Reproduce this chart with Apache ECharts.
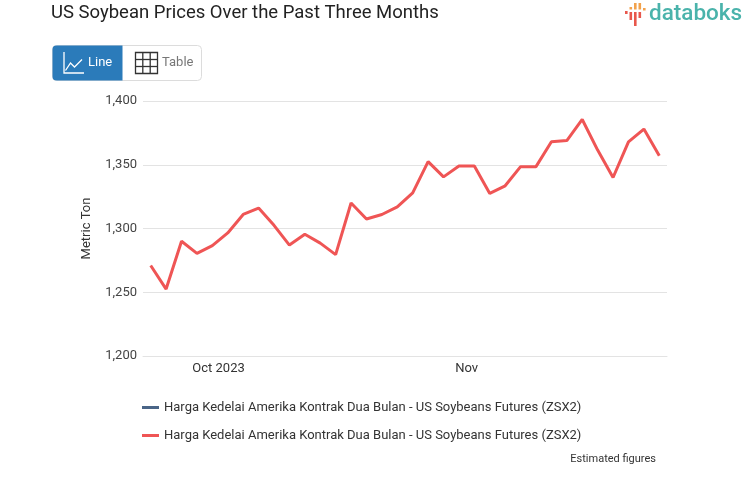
<!DOCTYPE html>
<html><head><meta charset="utf-8">
<script src="https://cdn.jsdelivr.net/npm/echarts@6/dist/echarts.min.js"></script>
<style>html,body{margin:0;padding:0;background:#fff}#c{width:753px;height:498px}</style>
</head><body><div id="c"></div>
<script>
// ---- data ----
const dates = [
  '2023-09-21','2023-09-22','2023-09-25','2023-09-27','2023-09-29',
  '2023-10-04','2023-10-05','2023-10-06','2023-10-09','2023-10-11','2023-10-13','2023-10-16','2023-10-18',
  '2023-10-19','2023-10-20','2023-10-23','2023-10-25','2023-10-26','2023-10-27','2023-10-30','2023-10-31',
  '2023-11-02','2023-11-03','2023-11-06','2023-11-07','2023-11-08','2023-11-09','2023-11-10','2023-11-13',
  '2023-11-14','2023-11-15','2023-11-16','2023-11-17','2023-11-20'
];
const prices = [
  1271, 1252.5, 1290, 1280.5, 1286.5, 1296.5, 1311, 1316, 1302.5, 1287, 1295.5, 1288.5,
  1279.5, 1320, 1307.5, 1311, 1317, 1328, 1352.5, 1340.5, 1349, 1349, 1327.5, 1333.5,
  1348.5, 1348.5, 1368, 1369, 1385.5, 1361.5, 1340, 1368, 1378, 1357
];
const seriesName = 'Harga Kedelai Amerika Kontrak Dua Bulan - US Soybeans Futures (ZSX2)';
const monthStarts = ['2023-10-01', '2023-11-01'];
const monthLabels = ['Oct 2023', 'Nov'];
const yMin = 1200, yMax = 1400, yStep = 50;

// ordinal position of each month start between trading dates
const t = d => new Date(d + 'T00:00:00Z').getTime();
const monthPos = monthStarts.map(m => {
  const mt = t(m);
  for (let i = 1; i < dates.length; i++) {
    const a = t(dates[i - 1]), b = t(dates[i]);
    if (mt > a && mt <= b) return (i - 1) + (mt - a) / (b - a);
  }
  return 0;
});

const chart = echarts.init(document.getElementById('c'), null, {renderer: 'canvas'});
const font = 'Roboto, "Noto Sans", sans-serif';

chart.setOption({
  animation: false,
  textStyle: {fontFamily: font},
  title: {
    text: 'US Soybean Prices Over the Past Three Months',
    left: 51, top: 4, padding: 0,
    textStyle: {fontFamily: font, fontSize: 18.5, fontWeight: 'normal', color: '#222'}
  },
  grid: {left: 143, right: 86, top: 101, bottom: 142},
  legend: {
    orient: 'vertical', left: 142, top: 401, itemGap: 15, padding: 0,
    itemWidth: 17, itemHeight: 3, icon: 'rect',
    textStyle: {fontFamily: font, fontSize: 13, color: '#333'},
    data: [seriesName, seriesName + '\u200b']
  },
  xAxis: {
    type: 'value', min: -0.5, max: dates.length - 0.5,
    splitLine: {show: false},
    axisTick: {show: false},
    axisLine: {show: true, lineStyle: {color: '#e3e3e3'}},
    axisLabel: {
      customValues: monthPos,
      color: '#333', fontSize: 13, margin: 6, fontFamily: font,
      formatter: v => {
        let best = 0;
        monthPos.forEach((p, i) => { if (Math.abs(p - v) < Math.abs(monthPos[best] - v)) best = i; });
        return monthLabels[best];
      }
    }
  },
  yAxis: {
    type: 'value', min: yMin, max: yMax, interval: yStep,
    name: 'Metric Ton', nameLocation: 'middle', nameGap: 50, nameRotate: 90,
    nameTextStyle: {color: '#333', fontSize: 13, fontFamily: font},
    axisLine: {show: false}, axisTick: {show: false},
    axisLabel: {color: '#444', fontSize: 13, margin: 6, fontFamily: font,
      formatter: v => v.toLocaleString('en-US')},
    splitLine: {lineStyle: {color: '#e3e3e3', width: 1}}
  },
  series: [
    {name: seriesName, type: 'line', data: [], color: '#4a6587', lineStyle: {width: 3}},
    {name: seriesName + '\u200b', type: 'line', color: '#ef5555', showSymbol: false, symbol: 'none',
     lineStyle: {width: 3, color: '#ef5555'},
     data: prices.map((v, i) => [i, v])}
  ],
  graphic: [
    // button group
    {type: 'rect', shape: {x: 52.5, y: 45.5, width: 149, height: 35, r: 4},
     style: {fill: '#fff', stroke: '#dcdcdc', lineWidth: 1}},
    {type: 'rect', shape: {x: 52.5, y: 45.5, width: 70, height: 35, r: [4, 0, 0, 4]},
     style: {fill: '#2b7bba'}},
    {type: 'polyline', shape: {points: [[64, 52], [64, 73], [84, 73]]},
     style: {stroke: '#fff', lineWidth: 1.3, fill: null}},
    {type: 'polyline', shape: {points: [[65.5, 70.5], [70.5, 63], [74.5, 67], [82, 59.5]]},
     style: {stroke: '#fff', lineWidth: 1.3, fill: null}},
    {type: 'text', x: 88, y: 63, style: {text: 'Line', fill: '#fff', fontSize: 13, fontFamily: font, verticalAlign: 'middle'}},
    {type: 'rect', shape: {x: 135.5, y: 52.5, width: 22, height: 21}, style: {fill: null, stroke: '#333', lineWidth: 1.3}},
    {type: 'line', shape: {x1: 142.8, y1: 52.5, x2: 142.8, y2: 73.5}, style: {stroke: '#333', lineWidth: 1.3}},
    {type: 'line', shape: {x1: 150.2, y1: 52.5, x2: 150.2, y2: 73.5}, style: {stroke: '#333', lineWidth: 1.3}},
    {type: 'line', shape: {x1: 135.5, y1: 59.5, x2: 157.5, y2: 59.5}, style: {stroke: '#333', lineWidth: 1.3}},
    {type: 'line', shape: {x1: 135.5, y1: 66.5, x2: 157.5, y2: 66.5}, style: {stroke: '#333', lineWidth: 1.3}},
    {type: 'text', x: 162, y: 63, style: {text: 'Table', fill: '#777', fontSize: 13, fontFamily: font, verticalAlign: 'middle'}},
    // logo
    {type: 'rect', shape: {x: 625, y: 11, width: 2.6, height: 3}, style: {fill: '#e8574c'}},
    {type: 'rect', shape: {x: 629.5, y: 7, width: 2.6, height: 2.5}, style: {fill: '#f2a24c'}},
    {type: 'rect', shape: {x: 629.5, y: 12, width: 2.6, height: 8}, style: {fill: '#e8574c'}},
    {type: 'rect', shape: {x: 634, y: 3, width: 2.6, height: 6.5}, style: {fill: '#f2a24c'}},
    {type: 'rect', shape: {x: 634, y: 12, width: 2.6, height: 14}, style: {fill: '#e8574c'}},
    {type: 'rect', shape: {x: 638.5, y: 3, width: 2.6, height: 6.5}, style: {fill: '#f2a24c'}},
    {type: 'rect', shape: {x: 638.5, y: 12, width: 2.6, height: 6}, style: {fill: '#e8574c'}},
    {type: 'rect', shape: {x: 643, y: 8, width: 2.6, height: 2.5}, style: {fill: '#f2a24c'}},
    {type: 'text', x: 649, y: 14, style: {text: 'databoks', fill: '#4ab3ab', fontSize: 22.5, fontWeight: 500, fontFamily: font, verticalAlign: 'middle'}},
    // footnote
    {type: 'text', x: 656, y: 459, style: {text: 'Estimated figures', fill: '#333', fontSize: 11, fontFamily: font, align: 'right', verticalAlign: 'middle'}}
  ]
});
</script>
</body></html>
